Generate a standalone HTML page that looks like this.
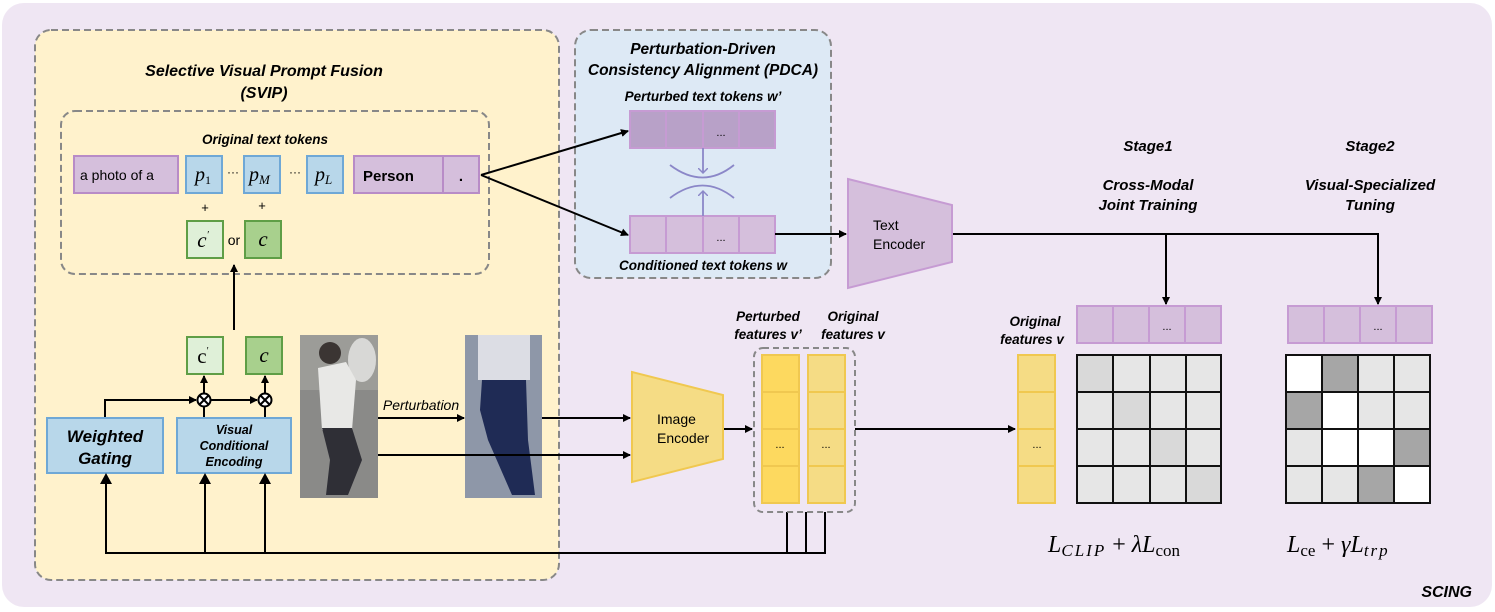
<!DOCTYPE html>
<html><head><meta charset="utf-8"><style>
html,body{margin:0;padding:0;background:#fff;}
svg{display:block;font-family:"Liberation Sans",sans-serif;}
.bi{font-weight:bold;font-style:italic;}
</style></head><body>
<svg width="1495" height="612" viewBox="0 0 1495 612" xmlns="http://www.w3.org/2000/svg">
<defs>
<marker id="ah" markerWidth="8" markerHeight="8" refX="7" refY="4" orient="auto" markerUnits="userSpaceOnUse"><path d="M0,0 L8,4 L0,8 z" fill="#000"/></marker>
<marker id="ahp" markerWidth="10" markerHeight="10" refX="5" refY="5" orient="auto" markerUnits="userSpaceOnUse"><path d="M0,0 L5,5 L0,10" fill="none" stroke="#8b87c8" stroke-width="1.5"/></marker>
</defs>
<rect x="2" y="3" width="1490" height="604" rx="22" fill="#efe6f3"/>
<!-- SVIP -->
<rect x="35" y="30" width="524" height="550" rx="16" fill="#fff2cc" stroke="#888" stroke-width="2" stroke-dasharray="7,4"/>
<text x="264" y="76" text-anchor="middle" font-size="16" class="bi">Selective Visual Prompt Fusion</text>
<text x="264" y="98" text-anchor="middle" font-size="16" class="bi">(SVIP)</text>
<rect x="61" y="111" width="428" height="163" rx="14" fill="none" stroke="#888" stroke-width="2" stroke-dasharray="7,4"/>
<text x="265" y="144" text-anchor="middle" font-size="13.5" class="bi">Original text tokens</text>
<rect x="74" y="156" width="104" height="37" fill="#d5bfdc" stroke="#b88cc7" stroke-width="2"/>
<text x="80" y="180" font-size="14">a photo of a</text>
<g fill="#b8d7ea" stroke="#6fa8d6" stroke-width="2">
<rect x="186" y="156" width="36" height="37"/><rect x="244" y="156" width="36" height="37"/><rect x="307" y="156" width="36" height="37"/></g>
<g font-family="Liberation Serif,serif" font-style="italic" font-size="20">
<text x="195" y="181">p<tspan font-size="12" font-style="normal" dy="3">1</tspan></text>
<text x="249" y="181">p<tspan font-size="13" dy="3">M</tspan></text>
<text x="315" y="181">p<tspan font-size="13" dy="3">L</tspan></text></g>
<text x="233" y="176" text-anchor="middle" font-size="12">···</text>
<text x="295" y="176" text-anchor="middle" font-size="12">···</text>
<rect x="354" y="156" width="89" height="37" fill="#d5bfdc" stroke="#b88cc7" stroke-width="2"/>
<rect x="443" y="156" width="36" height="37" fill="#d5bfdc" stroke="#b88cc7" stroke-width="2"/>
<text x="363" y="181" font-size="15" font-weight="bold">Person</text>
<text x="461" y="181" text-anchor="middle" font-size="15" font-weight="bold">.</text>
<text x="205" y="212" text-anchor="middle" font-size="13">+</text>
<text x="262" y="210" text-anchor="middle" font-size="13">+</text>
<rect x="187" y="221" width="36" height="37" fill="#dff0d8" stroke="#5f9e46" stroke-width="2"/>
<rect x="245" y="221" width="36" height="37" fill="#a8d08d" stroke="#5f9e46" stroke-width="2"/>
<text x="203" y="247" text-anchor="middle" font-family="Liberation Serif,serif" font-style="italic" font-size="21">c<tspan font-size="10" dy="-9">′</tspan></text>
<text x="263" y="246" text-anchor="middle" font-family="Liberation Serif,serif" font-style="italic" font-size="21">c</text>
<text x="234" y="245" text-anchor="middle" font-size="14">or</text>
<line x1="234" y1="330" x2="234" y2="265" stroke="#000" stroke-width="2" marker-end="url(#ah)"/>
<!-- lower c boxes -->
<rect x="187" y="337" width="36" height="37" fill="#dff0d8" stroke="#5f9e46" stroke-width="2"/>
<rect x="246" y="337" width="36" height="37" fill="#a8d08d" stroke="#5f9e46" stroke-width="2"/>
<text x="203" y="363" text-anchor="middle" font-family="Liberation Serif,serif" font-size="21">c<tspan font-size="10" dy="-9">′</tspan></text>
<text x="264" y="362" text-anchor="middle" font-family="Liberation Serif,serif" font-style="italic" font-size="21">c</text>
<g stroke="#000" stroke-width="2" fill="none">
<polyline points="105,417 105,400 196,400" marker-end="url(#ah)"/>
<line x1="211" y1="400" x2="257" y2="400" marker-end="url(#ah)"/>
<line x1="204" y1="417" x2="204" y2="407"/><line x1="265" y1="417" x2="265" y2="407"/>
<line x1="204" y1="393" x2="204" y2="376" marker-end="url(#ah)"/>
<line x1="265" y1="393" x2="265" y2="376" marker-end="url(#ah)"/>
<circle cx="204" cy="400" r="6.5" fill="#fff"/><circle cx="265" cy="400" r="6.5" fill="#fff"/>
<path d="M199.5,395.5 L208.5,404.5 M208.5,395.5 L199.5,404.5 M260.5,395.5 L269.5,404.5 M269.5,395.5 L260.5,404.5"/>
</g>
<rect x="47" y="418" width="116" height="55" fill="#b8d7ea" stroke="#6fa8d6" stroke-width="2"/>
<text x="105" y="442" text-anchor="middle" font-size="17" class="bi">Weighted</text>
<text x="105" y="464" text-anchor="middle" font-size="17" class="bi">Gating</text>
<rect x="177" y="418" width="114" height="55" fill="#b8d7ea" stroke="#6fa8d6" stroke-width="2"/>
<text x="234" y="434" text-anchor="middle" font-size="12.5" class="bi">Visual</text>
<text x="234" y="450" text-anchor="middle" font-size="12.5" class="bi">Conditional</text>
<text x="234" y="466" text-anchor="middle" font-size="12.5" class="bi">Encoding</text>
<!-- images -->
<rect x="300" y="335" width="78" height="163" fill="#8a8a88"/>
<rect x="300" y="335" width="78" height="55" fill="#9c9c98"/>
<ellipse cx="362" cy="360" rx="14" ry="22" fill="#d8d8d6"/>
<path d="M318,368 L346,362 L356,380 L352,430 L322,430 z" fill="#e8e8e6"/>
<circle cx="330" cy="353" r="11" fill="#3b3533"/>
<path d="M322,428 L352,428 L362,460 L348,495 L326,495 L330,460 z" fill="#2f2f36"/>
<rect x="465" y="335" width="77" height="163" fill="#8e97a8"/>
<rect x="478" y="335" width="52" height="45" fill="#dcdde4"/>
<path d="M482,380 L526,380 L528,440 L535,495 L512,495 L488,440 L480,410 z" fill="#1f2b55"/>
<g stroke="#000" stroke-width="2" fill="none">
<line x1="378" y1="418" x2="464" y2="418" marker-end="url(#ah)"/>
<line x1="542" y1="418" x2="630" y2="418" marker-end="url(#ah)"/>
<line x1="378" y1="455" x2="630" y2="455" marker-end="url(#ah)"/>
<polyline points="106,481 106,553 787,553 787,512"/>
<line x1="205" y1="553" x2="205" y2="481"/><line x1="265" y1="553" x2="265" y2="481"/>
<polyline points="806,512 806,553"/><polyline points="825,512 825,553 787,553"/>
</g>
<path d="M100,484 L106,473 L112,484 z M199,484 L205,473 L211,484 z M259,484 L265,473 L271,484 z" fill="#000"/>
<text x="421" y="410" text-anchor="middle" font-size="14" font-style="italic">Perturbation</text>
<!-- PDCA -->
<rect x="575" y="30" width="256" height="248" rx="16" fill="#dde9f5" stroke="#888" stroke-width="2" stroke-dasharray="7,4"/>
<text x="703" y="54" text-anchor="middle" font-size="15.5" class="bi">Perturbation-Driven</text>
<text x="703" y="75" text-anchor="middle" font-size="15.5" class="bi">Consistency Alignment (PDCA)</text>
<text x="703" y="101" text-anchor="middle" font-size="13.5" class="bi">Perturbed text tokens w’</text>
<g fill="#b8a1c8" stroke="#c69bd3" stroke-width="2">
<rect x="630" y="111" width="36" height="37"/><rect x="666" y="111" width="37" height="37"/><rect x="703" y="111" width="36" height="37"/><rect x="739" y="111" width="36" height="37"/></g>
<g fill="#d5bfdc" stroke="#c69bd3" stroke-width="2">
<rect x="630" y="216" width="36" height="37"/><rect x="666" y="216" width="37" height="37"/><rect x="703" y="216" width="36" height="37"/><rect x="739" y="216" width="36" height="37"/></g>
<text x="721" y="136" text-anchor="middle" font-size="11">...</text>
<text x="721" y="241" text-anchor="middle" font-size="11">...</text>
<text x="703" y="270" text-anchor="middle" font-size="13.5" class="bi">Conditioned text tokens w</text>
<g stroke="#8b87c8" stroke-width="1.8" fill="none">
<line x1="703" y1="148" x2="703" y2="173" marker-end="url(#ahp)"/>
<line x1="703" y1="216" x2="703" y2="191" marker-end="url(#ahp)"/>
<path d="M670,165 Q703,190 734,165"/>
<path d="M670,198 Q703,173 734,198"/>
</g>
<g stroke="#000" stroke-width="2" fill="none">
<line x1="481" y1="175" x2="628" y2="131" marker-end="url(#ah)"/>
<line x1="481" y1="175" x2="628" y2="235" marker-end="url(#ah)"/>
<line x1="775" y1="234" x2="846" y2="234" marker-end="url(#ah)"/>
<polyline points="952,234 1378,234 1378,304" marker-end="url(#ah)"/>
<line x1="1166" y1="234" x2="1166" y2="304" marker-end="url(#ah)"/>
<line x1="723" y1="429" x2="752" y2="429" marker-end="url(#ah)"/>
<line x1="855" y1="429" x2="1015" y2="429" marker-end="url(#ah)"/>
</g>
<polygon points="848,179 952,205 952,262 848,288" fill="#d5bfdc" stroke="#c69bd3" stroke-width="2"/>
<text x="873" y="230" font-size="14">Text</text>
<text x="873" y="249" font-size="14">Encoder</text>
<polygon points="632,372 723,395 723,459 632,482" fill="#f5dc85" stroke="#f0c850" stroke-width="2"/>
<text x="657" y="424" font-size="14">Image</text>
<text x="657" y="443" font-size="14">Encoder</text>
<!-- features -->
<text x="768" y="321" text-anchor="middle" font-size="13.5" class="bi">Perturbed</text>
<text x="768" y="339" text-anchor="middle" font-size="13.5" class="bi">features v’</text>
<text x="853" y="321" text-anchor="middle" font-size="13.5" class="bi">Original</text>
<text x="853" y="339" text-anchor="middle" font-size="13.5" class="bi">features v</text>
<rect x="754" y="348" width="101" height="164" rx="9" fill="none" stroke="#888" stroke-width="2" stroke-dasharray="6,4"/>
<g fill="#fdd95f" stroke="#f0c850" stroke-width="2">
<rect x="762" y="355" width="37" height="37"/><rect x="762" y="392" width="37" height="37"/><rect x="762" y="429" width="37" height="37"/><rect x="762" y="466" width="37" height="37"/></g>
<g fill="#f5dc85" stroke="#f0c850" stroke-width="2">
<rect x="808" y="355" width="37" height="37"/><rect x="808" y="392" width="37" height="37"/><rect x="808" y="429" width="37" height="37"/><rect x="808" y="466" width="37" height="37"/>
<rect x="1018" y="355" width="37" height="37"/><rect x="1018" y="392" width="37" height="37"/><rect x="1018" y="429" width="37" height="37"/><rect x="1018" y="466" width="37" height="37"/></g>
<text x="780" y="448" text-anchor="middle" font-size="11">...</text>
<text x="826" y="448" text-anchor="middle" font-size="11">...</text>
<text x="1037" y="448" text-anchor="middle" font-size="11">...</text>
<text x="1035" y="326" text-anchor="middle" font-size="13.5" class="bi">Original</text>
<text x="1032" y="344" text-anchor="middle" font-size="13.5" class="bi">features v</text>
<!-- stages -->
<g font-size="15" class="bi" text-anchor="middle">
<text x="1148" y="151">Stage1</text><text x="1148" y="190">Cross-Modal</text><text x="1148" y="210">Joint Training</text>
<text x="1370" y="151">Stage2</text><text x="1370" y="190">Visual-Specialized</text><text x="1370" y="210">Tuning</text></g>
<g fill="#d5bfdc" stroke="#c69bd3" stroke-width="2">
<rect x="1077" y="306" width="36" height="37"/><rect x="1113" y="306" width="36" height="37"/><rect x="1149" y="306" width="36" height="37"/><rect x="1185" y="306" width="36" height="37"/>
<rect x="1288" y="306" width="36" height="37"/><rect x="1324" y="306" width="36" height="37"/><rect x="1360" y="306" width="36" height="37"/><rect x="1396" y="306" width="36" height="37"/></g>
<text x="1167" y="330" text-anchor="middle" font-size="11">...</text>
<text x="1378" y="330" text-anchor="middle" font-size="11">...</text>
<!-- matrices -->
<g stroke="#111" stroke-width="2">
<rect x="1077" y="355" width="36" height="37" fill="#d9d9d9"/><rect x="1113" y="355" width="37" height="37" fill="#e6e6e6"/><rect x="1150" y="355" width="36" height="37" fill="#e6e6e6"/><rect x="1186" y="355" width="35" height="37" fill="#e6e6e6"/>
<rect x="1077" y="392" width="36" height="37" fill="#e6e6e6"/><rect x="1113" y="392" width="37" height="37" fill="#d9d9d9"/><rect x="1150" y="392" width="36" height="37" fill="#e6e6e6"/><rect x="1186" y="392" width="35" height="37" fill="#e6e6e6"/>
<rect x="1077" y="429" width="36" height="37" fill="#e6e6e6"/><rect x="1113" y="429" width="37" height="37" fill="#e6e6e6"/><rect x="1150" y="429" width="36" height="37" fill="#d9d9d9"/><rect x="1186" y="429" width="35" height="37" fill="#e6e6e6"/>
<rect x="1077" y="466" width="36" height="37" fill="#e6e6e6"/><rect x="1113" y="466" width="37" height="37" fill="#e6e6e6"/><rect x="1150" y="466" width="36" height="37" fill="#e6e6e6"/><rect x="1186" y="466" width="35" height="37" fill="#d9d9d9"/>
<rect x="1286" y="355" width="36" height="37" fill="#fff"/><rect x="1322" y="355" width="36" height="37" fill="#a6a6a6"/><rect x="1358" y="355" width="36" height="37" fill="#e6e6e6"/><rect x="1394" y="355" width="36" height="37" fill="#e6e6e6"/>
<rect x="1286" y="392" width="36" height="37" fill="#a6a6a6"/><rect x="1322" y="392" width="36" height="37" fill="#fff"/><rect x="1358" y="392" width="36" height="37" fill="#e6e6e6"/><rect x="1394" y="392" width="36" height="37" fill="#e6e6e6"/>
<rect x="1286" y="429" width="36" height="37" fill="#e6e6e6"/><rect x="1322" y="429" width="36" height="37" fill="#fff"/><rect x="1358" y="429" width="36" height="37" fill="#fff"/><rect x="1394" y="429" width="36" height="37" fill="#a6a6a6"/>
<rect x="1286" y="466" width="36" height="37" fill="#e6e6e6"/><rect x="1322" y="466" width="36" height="37" fill="#e6e6e6"/><rect x="1358" y="466" width="36" height="37" fill="#a6a6a6"/><rect x="1394" y="466" width="36" height="37" fill="#fff"/>
</g>
<g font-family="Liberation Serif,serif" font-size="24">
<text x="1048" y="552"><tspan font-style="italic">L</tspan><tspan font-style="italic" font-size="17" dy="4" letter-spacing="2">CLIP</tspan><tspan dy="-4"> + </tspan><tspan font-style="italic">λL</tspan><tspan font-size="17" dy="4">con</tspan></text>
<text x="1287" y="552"><tspan font-style="italic">L</tspan><tspan font-size="17" dy="4">ce</tspan><tspan dy="-4"> + </tspan><tspan font-style="italic">γL</tspan><tspan font-style="italic" font-size="17" dy="4" letter-spacing="2">trp</tspan></text>
</g>
<text x="1472" y="597" text-anchor="end" font-size="16" class="bi">SCING</text>
</svg>
</body></html>
